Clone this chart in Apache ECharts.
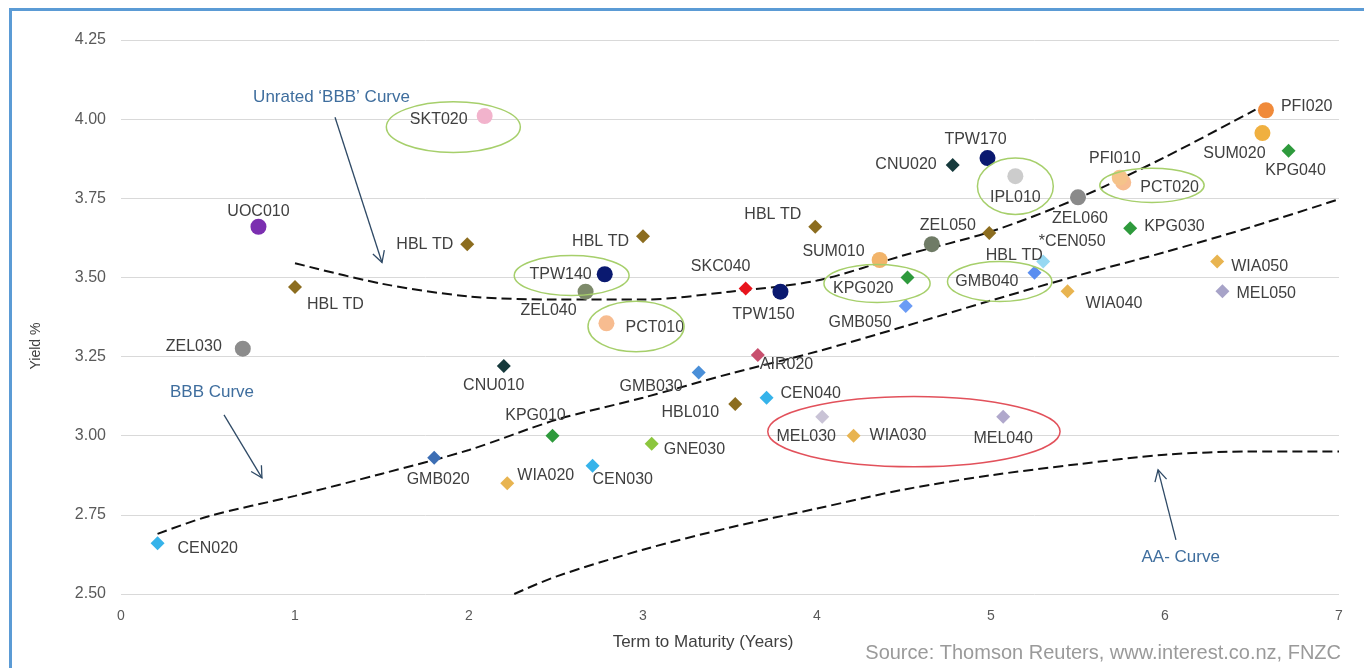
<!DOCTYPE html>
<html>
<head>
<meta charset="utf-8">
<script src="https://cdn.jsdelivr.net/npm/echarts@6/dist/echarts.min.js"></script>
<style>
  html, body { margin: 0; padding: 0; background: #fff; }
  #chart { width: 1364px; height: 668px; }
</style>
</head>
<body>
<div id="chart"></div>
<script>
// bond issues: term to maturity (years) and yield (%)
const pointNames = [
  'CEN020', 'ZEL030', 'UOC010', 'HBL TD', 'HBL TD', 'SKT020', 'GMB020', 'WIA020',
  'KPG010', 'CNU010', 'ZEL040', 'TPW140', 'HBL TD', 'PCT010', 'GNE030', 'CEN030',
  'GMB030', 'HBL010', 'AIR020', 'CEN040', 'SKC040', 'TPW150', 'HBL TD', 'SUM010',
  'KPG020', 'GMB050', 'MEL030', 'WIA030', 'MEL040', 'ZEL050', 'HBL TD', 'CNU020',
  'TPW170', 'IPL010', 'ZEL060', 'PCT020', 'PFI010', '*CEN050', 'GMB040', 'KPG030',
  'WIA040', 'WIA050', 'MEL050', 'PFI020', 'SUM020', 'KPG040'
]
const pointTerms = [
  0.21, 0.70, 0.79, 1.00, 1.99, 2.09, 1.80, 2.22,
  2.48, 2.20, 2.67, 2.78, 3.00, 2.79, 3.05, 2.71,
  3.32, 3.53, 3.66, 3.71, 3.59, 3.79, 3.99, 4.36,
  4.52, 4.51, 4.03, 4.21, 5.07, 4.66, 4.99, 4.78,
  4.98, 5.14, 5.50, 5.76, 5.74, 5.30, 5.25, 5.80,
  5.44, 6.30, 6.33, 6.58, 6.56, 6.71
]
const pointYields = [
  2.66, 3.275, 3.66, 3.47, 3.605, 4.01, 2.93, 2.85,
  3.00, 3.22, 3.455, 3.51, 3.63, 3.355, 2.975, 2.905,
  3.20, 3.10, 3.255, 3.12, 3.465, 3.455, 3.66, 3.555,
  3.50, 3.41, 3.06, 3.00, 3.06, 3.605, 3.64, 3.855,
  3.877, 3.82, 3.753, 3.80, 3.815, 3.55, 3.515, 3.655,
  3.456, 3.55, 3.456, 4.028, 3.956, 3.90
]

// curves
const unratedTerms = [1.0, 1.5, 2.0, 2.5, 3.0, 3.5, 4.0, 4.5, 5.0, 5.5, 6.0, 6.52]
const unratedYields = [3.545, 3.48, 3.44, 3.43, 3.43, 3.455, 3.49, 3.57, 3.645, 3.75, 3.88, 4.03]
const bbbTerms = [0.21, 0.5, 1.0, 1.5, 2.0, 2.5, 3.0, 3.5, 4.0, 4.5, 5.0, 5.5, 6.0, 6.5, 7.0]
const bbbYields = [2.69, 2.745, 2.81, 2.88, 2.955, 3.05, 3.12, 3.196, 3.266, 3.345, 3.427, 3.506, 3.58, 3.66, 3.747]
const aaTerms = [2.26, 2.5, 3.0, 3.5, 4.0, 4.5, 5.0, 5.5, 6.0, 6.5, 7.0]
const aaYields = [2.50, 2.555, 2.64, 2.71, 2.77, 2.83, 2.875, 2.91, 2.94, 2.95, 2.95]

const yTicks = ['2.50', '2.75', '3.00', '3.25', '3.50', '3.75', '4.00', '4.25']

// marker styling per point (same order as pointNames)
const HBL = '#8c6d1f'
const pointColors = [
  '#36b3ea', '#8c8c8c', '#7b2fb0', HBL, HBL, '#f2b3cc', '#3d6eb4', '#e8b450',
  '#2e9a3c', '#163a3c', '#7d8a6a', '#0a1970', HBL, '#f7bc90', '#8cc63e', '#36b3ea',
  '#4a8fd8', HBL, '#c8506e', '#36b3ea', '#e8141c', '#0a1970', HBL, '#f2b46a',
  '#2e9a3c', '#6b9cf5', '#c9c3d6', '#e8b450', '#b0a8cc', '#6f7b66', HBL, '#163a3c',
  '#0a1970', '#cccccc', '#8a8a8a', '#f7bc90', '#f5c38a', '#96d8f2', '#5a8ef0', '#2e9a3c',
  '#e8b450', '#e8b450', '#a7a3c8', '#f08a3a', '#f0b040', '#2e9a3c'
]
const C = 'circle'
const D = 'diamond'
const pointShapes = [
  D, C, C, D, D, C, D, D,
  D, D, C, C, D, C, D, D,
  D, D, D, D, D, C, D, C,
  D, D, D, D, D, C, D, D,
  C, C, C, C, C, D, D, D,
  D, D, D, C, C, D
]
const labelSides = [
  'right', 'left', 'top', 'right', 'left', 'left', 'bottom', 'right',
  'top', 'bottom', 'bottom', 'left', 'left', 'right', 'right', 'right',
  'left', 'left', 'right', 'right', 'top', 'bottom', 'left', 'left',
  'left', 'left', 'bottom', 'right', 'bottom', 'top', 'bottom', 'left',
  'top', 'bottom', 'bottom', 'right', 'top', 'top', 'left', 'right',
  'right', 'right', 'right', 'right', 'bottom', 'bottom'
]
const labelShifts = [
  [8, 5], [-8, -2], [0, 6], [0, 18], [-2, 0], [-4, 4], [4, 2], [-2, -8],
  [-17, 0], [-10, 0], [-37, -2], [0, 0], [-2, 5], [6, 4], [0, 6], [-12, 14],
  [-4, 14], [-4, 9], [-10, 10], [2, -4], [-25, -2], [-17, 2], [-2, -12], [-2, -8],
  [-2, 11], [-2, 17], [-16, 0], [4, 0], [0, 2], [16, 2], [25, 2], [-4, 0],
  [-12, 3], [0, 0], [2, 0], [4, 5], [-5, 2], [29, 0], [-4, 9], [2, -2],
  [6, 12], [2, 5], [2, 2], [2, -4], [-28, 0], [7, 0]
]

// annotations in data units: [term, yield, halfWidthYears, halfHeightYield]
const greenRings = [
  [1.91, 3.975, 0.385, 0.08],
  [2.59, 3.506, 0.33, 0.063],
  [2.96, 3.345, 0.276, 0.08],
  [4.345, 3.481, 0.305, 0.06],
  [5.05, 3.487, 0.30, 0.063],
  [5.14, 3.788, 0.218, 0.089],
  [5.925, 3.791, 0.30, 0.054]
]
const redRing = [4.557, 3.013, 0.84, 0.111]
const curveNotes = ['Unrated \u2018BBB\u2019 Curve', 'BBB Curve', 'AA- Curve']
const notePlaces = [[1.21, 4.07], [0.523, 3.136], [6.09, 2.617]]
const arrowFrom = [[1.23, 4.006], [0.592, 3.066], [6.063, 2.671]]
const arrowTo = [[1.50, 3.547], [0.81, 2.867], [5.96, 2.892]]

const FONT = '"Liberation Sans", Arial, sans-serif'

function zipPairs(xs, ys) {
  return xs.map((x, i) => [x, ys[i]])
}

function curveSeries(name, xs, ys) {
  return {
    name: name,
    type: 'line',
    smooth: 0.3,
    showSymbol: false,
    silent: true,
    z: 3,
    lineStyle: { color: '#111', width: 2, type: [10, 5] },
    data: zipPairs(xs, ys)
  }
}

let scatterData = pointNames.map((name, i) => ({
  name: name,
  value: [pointTerms[i], pointYields[i]],
  symbol: pointShapes[i],
  symbolSize: pointShapes[i] === C ? 16 : 14,
  itemStyle: { color: pointColors[i], opacity: 1 },
  label: { position: labelSides[i] }
}))

let chart = echarts.init(document.getElementById('chart'))

chart.setOption({
  animation: false,
  backgroundColor: '#fff',
  grid: { left: 121, right: 25, top: 40, bottom: 74 },
  xAxis: {
    type: 'value',
    min: 0,
    max: 7,
    interval: 1,
    axisLine: { show: false },
    axisTick: { show: false },
    splitLine: { show: false },
    axisLabel: { color: '#595959', fontSize: 14, fontFamily: FONT, margin: 15 }
  },
  yAxis: {
    type: 'value',
    min: 2.5,
    max: 4.25,
    interval: 0.25,
    axisLine: { show: false },
    axisTick: { show: false },
    splitLine: { lineStyle: { color: '#d9d9d9', width: 1 } },
    axisLabel: {
      color: '#595959',
      fontSize: 16,
      fontFamily: FONT,
      margin: 15,
      formatter: v => yTicks[Math.round((v - 2.5) / 0.25)]
    }
  },
  series: [
    curveSeries('Unrated BBB', unratedTerms, unratedYields),
    curveSeries('BBB', bbbTerms, bbbYields),
    curveSeries('AA-', aaTerms, aaYields),
    {
      name: 'Issues',
      type: 'scatter',
      z: 4,
      label: {
        show: true,
        formatter: '{b}',
        color: '#404040',
        fontSize: 16,
        fontFamily: FONT,
        distance: 5
      },
      labelLayout: params => ({
        dx: labelShifts[params.dataIndex][0],
        dy: labelShifts[params.dataIndex][1],
        hideOverlap: false
      }),
      data: scatterData
    }
  ]
})

function px(pt) {
  return chart.convertToPixel({ xAxisIndex: 0, yAxisIndex: 0 }, pt)
}

function ringShape(r, color) {
  let c = px([r[0], r[1]])
  let edge = px([r[0] + r[2], r[1] + r[3]])
  return {
    type: 'ellipse',
    shape: { cx: c[0], cy: c[1], rx: Math.abs(edge[0] - c[0]), ry: Math.abs(c[1] - edge[1]) },
    style: { fill: 'none', stroke: color, lineWidth: 1.5 },
    z: 10
  }
}

function arrowShapes(from, to) {
  let a = px(from)
  let b = px(to)
  let dx = b[0] - a[0]
  let dy = b[1] - a[1]
  let len = Math.sqrt(dx * dx + dy * dy)
  let ux = dx / len
  let uy = dy / len
  let head = 11
  let wing = 6
  return [
    {
      type: 'line',
      shape: { x1: a[0], y1: a[1], x2: b[0], y2: b[1] },
      style: { stroke: '#2f4a66', lineWidth: 1.3 },
      z: 10
    },
    {
      type: 'polyline',
      shape: {
        points: [
          [b[0] - ux * head - uy * wing, b[1] - uy * head + ux * wing],
          [b[0], b[1]],
          [b[0] - ux * head + uy * wing, b[1] - uy * head - ux * wing]
        ]
      },
      style: { stroke: '#2f4a66', lineWidth: 1.3, fill: 'none' },
      z: 10
    }
  ]
}

let graphics = [
  { type: 'rect', shape: { x: 9, y: 8, width: 1355, height: 3 }, style: { fill: '#5b9bd5' }, z: 20 },
  { type: 'rect', shape: { x: 9, y: 8, width: 3, height: 660 }, style: { fill: '#5b9bd5' }, z: 20 },
  {
    type: 'text',
    x: 36,
    y: 346,
    rotation: Math.PI / 2,
    style: { text: 'Yield %', fill: '#404040', font: '14px ' + FONT, textAlign: 'center', textVerticalAlign: 'middle' },
    z: 10
  },
  {
    type: 'text',
    x: 703,
    y: 642,
    style: { text: 'Term to Maturity (Years)', fill: '#404040', font: '17px ' + FONT, textAlign: 'center', textVerticalAlign: 'middle' },
    z: 10
  },
  {
    type: 'text',
    x: 1341,
    y: 653,
    style: { text: 'Source: Thomson Reuters, www.interest.co.nz, FNZC', fill: '#9a9a9a', font: '20px ' + FONT, textAlign: 'right', textVerticalAlign: 'middle' },
    z: 10
  }
]

greenRings.forEach(r => graphics.push(ringShape(r, '#a6cf6b')))
graphics.push(ringShape(redRing, '#e2515b'))

curveNotes.forEach((text, i) => {
  let p = px(notePlaces[i])
  graphics.push({
    type: 'text',
    x: p[0],
    y: p[1],
    style: { text: text, fill: '#3f6e9e', font: '17px ' + FONT, textAlign: 'center', textVerticalAlign: 'middle' },
    z: 10
  })
  arrowShapes(arrowFrom[i], arrowTo[i]).forEach(g => graphics.push(g))
})

chart.setOption({ graphic: graphics })
</script>
</body>
</html>
